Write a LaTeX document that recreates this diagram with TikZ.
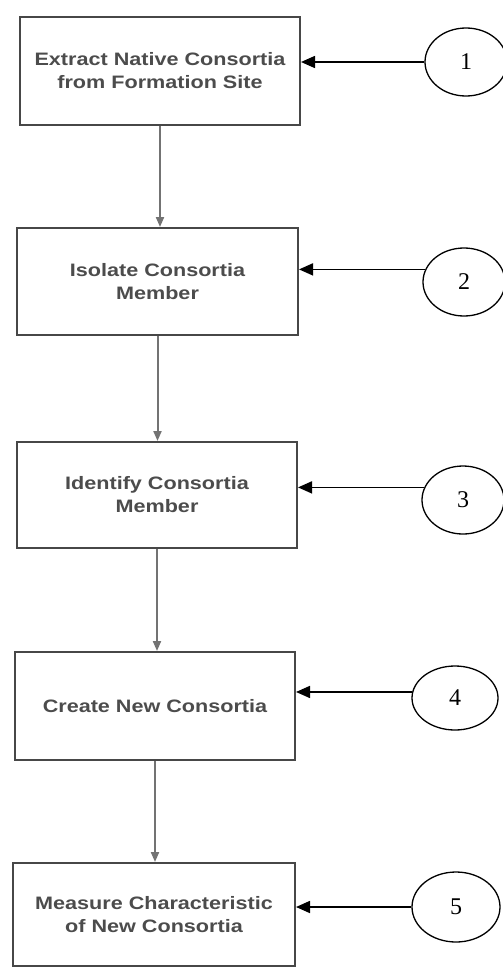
\documentclass[tikz,border=0pt]{standalone}
\usepackage{fontspec}
\setmainfont{Liberation Serif}
\newfontfamily\boxfont[FakeStretch=1.2]{Liberation Sans}
\usetikzlibrary{shapes.geometric,arrows.meta}
\begin{document}
\begin{tikzpicture}[x=1pt,y=1pt,
  stepbox/.style={draw=black!72,line width=2pt,minimum height=106pt,inner sep=0pt,
    font=\boxfont\bfseries\fontsize{18}{23}\selectfont,text=black!70,align=center},
  numoval/.style={draw,ellipse,line width=1.3pt,minimum width=82pt,minimum height=68pt,inner sep=0pt,
    font=\fontsize{24}{24}\selectfont},
  harrow/.style={-{Triangle[length=14pt,width=12pt]},line width=1.6pt},
  varrow/.style={-{Triangle[length=10pt,width=8pt]},line width=2pt,draw=black!55}
]
\useasboundingbox (0,0) rectangle (503,-969);
\fill[white] (0,0) rectangle (503,-969);

\node[stepbox,minimum width=280pt,minimum height=108pt] (b1) at (160,-71) {Extract Native Consortia\\from Formation Site};
\node[stepbox,minimum width=281pt,minimum height=107pt] (b2) at (157.5,-281.5) {Isolate Consortia\\Member};
\node[stepbox,minimum width=280pt,minimum height=106pt] (b3) at (157,-495) {Identify Consortia\\Member};
\node[stepbox,minimum width=280pt,minimum height=108pt] (b4) at (155,-706) {Create New Consortia};
\node[stepbox,minimum width=282pt,minimum height=103pt] (b5) at (154,-914.5) {Measure Characteristic\\of New Consortia};

\node[numoval] (c1) at (466,-62) {1};
\node[numoval] (c2) at (464,-282) {2};
\node[numoval] (c3) at (463,-500) {3};
\node[numoval,minimum width=86pt,minimum height=64pt] (c4) at (455,-698) {4};
\node[numoval,minimum width=88pt,minimum height=70pt] (c5) at (456,-907) {5};

\draw[harrow] (c1.west) -- (c1.west -| b1.east);
\draw[harrow] (c2.162) -- (c2.162 -| b2.east);
\draw[harrow] (c3.162) -- (c3.162 -| b3.east);
\draw[harrow] (c4.172) -- (c4.172 -| b4.east);
\draw[harrow] (c5.west) -- (c5.west -| b5.east);

\draw[varrow] (b1.south) -- (b1.south |- b2.north);
\draw[varrow] (b2.south) -- (b2.south |- b3.north);
\draw[varrow] (b3.south) -- (b3.south |- b4.north);
\draw[varrow] (b4.south) -- (b4.south |- b5.north);
\end{tikzpicture}
\end{document}
